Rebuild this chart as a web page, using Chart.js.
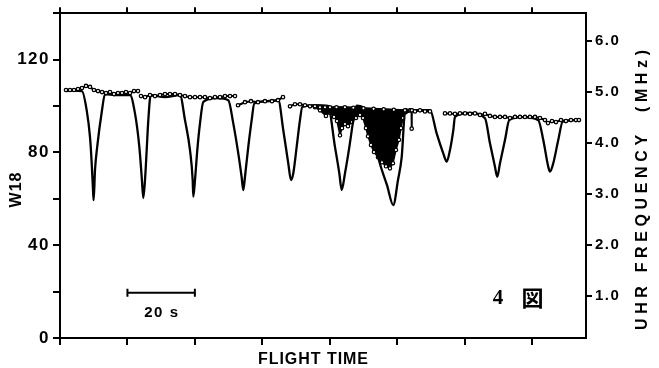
<!DOCTYPE html>
<html>
<head>
<meta charset="utf-8">
<script src="https://cdn.jsdelivr.net/npm/chart.js@4.4.0/dist/chart.umd.min.js"></script>
<style>
html,body{margin:0;padding:0;background:#fff;}
#wrap{width:659px;height:368px;position:relative;}
canvas{display:block;}
</style>
</head>
<body>
<div id="wrap"><canvas id="c" width="659" height="368"></canvas></div>
<script>
// ---- data ----
// W18 trace (seconds, W18 units)
const w18Time = [
  1.78, 4.2,
  6.52, 7.91, 8.90, 9.40, 9.79, 9.98, 10.38, 11.06, 12.37, 13.35,
  16.3,
  20.76, 22.24, 23.52, 24.23, 24.71, 25.21, 25.71, 26.19, 26.90,
  31.1,
  35.59, 37.07, 38.55, 39.35, 39.53, 40.04, 40.72, 41.52, 42.50,
  46.5,
  49.91, 51.39, 52.87, 53.86, 54.36, 54.86, 55.84, 56.84, 57.62,
  61.5,
  64.74, 66.22, 67.70, 68.51, 69.19, 70.19, 71.17, 71.86,
  75.6,
  79.5, 81.55, 82.84, 83.54, 84.52, 85.82, 87.0, 87.96,
  89.86, 91.93, 93.71, 95.20, 96.98, 98.84, 100.24, 101.34, 102.31,
  106.2,
  109.73, 111.71, 113.67, 114.68, 115.66, 116.65, 117.14,
  121.5,
  126.04, 127.52, 129.0, 129.69, 130.49, 131.97, 133.24,
  137.0,
  141.85, 143.33, 144.81, 145.31, 146.29, 147.77, 149.08,
  153.3
];
const w18Values = [
  106.4, 106.6,
  106.4, 98.2, 86.6, 75.4, 63.8, 59.4, 72.4, 82.7, 97.3, 105.1,
  104.7,
  104.7, 96.8, 82.5, 69.5, 60.3, 68.1, 81.0, 93.9, 104.7,
  103.8,
  104.7, 93.9, 81.0, 68.1, 60.9, 68.1, 81.0, 92.5, 101.8,
  103.4,
  102.5, 92.5, 79.6, 69.5, 63.8, 69.5, 82.4, 93.9, 101.1,
  102.1,
  102.5, 89.6, 75.3, 68.1, 71.0, 82.4, 93.9, 99.6,
  100.4,
  100.0, 82.4, 71.0, 63.8, 71.0, 82.4, 93.9, 100.1,
  99.5, 90.0, 81.4, 73.6, 65.9, 57.3, 68.1, 78.0, 96.6,
  98.2,
  98.2, 88.2, 79.6, 76.0, 81.0, 89.6, 95.3,
  97.0,
  94.7, 83.9, 73.8, 69.5, 75.3, 85.3, 93.9,
  95.2,
  93.9, 85.3, 73.8, 71.7, 75.3, 85.3, 93.2,
  93.9
];

// UHR frequency samples (seconds, MHz); null = break in the record
const uhrTime = [
  1.78, 2.97, 4.15, 5.34, 6.52, 7.71, 8.90, 10.08, 11.27, 12.46, 13.64, 14.83, 16.01, 17.20, 18.39, 19.57, 20.76, 21.95, 23.13,
  23.6,
  24.02, 25.21, 26.69, 28.17, 29.66, 31.14, 32.62, 34.10, 35.59, 37.07, 38.55, 40.04, 41.52, 43.0, 44.48, 45.97, 47.45, 48.93, 50.42, 51.9,
  52.3,
  52.79, 54.86, 56.64, 58.72, 60.79, 62.87, 64.65, 66.13,
  67.2,
  68.21, 69.69, 71.17, 72.66, 74.14, 75.62, 77.11, 78.59, 80.07, 82.0, 84.5, 87.0, 90.0, 93.0, 96.0, 99.0, 102.31, 103.8, 104.25, 104.3, 104.35, 105.28, 106.76, 108.24, 109.73,
  111.0,
  114.18, 115.66, 117.14, 118.62, 120.11, 121.59, 123.07, 124.56, 126.04, 127.52, 129.0, 130.49, 131.97, 133.45, 134.94, 136.42, 137.9, 139.38, 140.87, 142.35, 143.83, 144.72, 145.91, 147.09, 148.58, 150.06, 151.54, 153.02, 153.91
];
const uhrValues = [
  5.04, 5.04, 5.04, 5.06, 5.08, 5.12, 5.10, 5.04, 5.02, 5.00, 4.98, 5.00, 4.96, 4.98, 4.98, 5.00, 4.98, 5.02, 5.02,
  null,
  4.92, 4.90, 4.94, 4.92, 4.94, 4.96, 4.96, 4.96, 4.94, 4.92, 4.90, 4.90, 4.90, 4.90, 4.88, 4.90, 4.90, 4.92, 4.92, 4.92,
  null,
  4.74, 4.80, 4.82, 4.80, 4.82, 4.82, 4.84, 4.90,
  null,
  4.72, 4.76, 4.76, 4.74, 4.72, 4.72, 4.70, 4.70, 4.70, 4.70, 4.70, 4.69, 4.68, 4.67, 4.66, 4.65, 4.64, 4.64, 4.64, 4.28, 4.64, 4.62, 4.64, 4.62, 4.62,
  null,
  4.58, 4.58, 4.57, 4.58, 4.58, 4.57, 4.58, 4.55, 4.57, 4.53, 4.51, 4.51, 4.51, 4.49, 4.51, 4.51, 4.51, 4.51, 4.51, 4.49, 4.45, 4.39, 4.43, 4.41, 4.45, 4.43, 4.45, 4.45, 4.45
];

// dense UHR scatter (solid black band): upper and lower envelope
const burstTopTime = [75.62, 80.07, 85.0, 90.0, 96.0, 102.61];
const burstTopValues = [4.72, 4.70, 4.70, 4.68, 4.66, 4.64];
const burstBottomTime = [75.62, 77.11, 78.88, 80.07, 81.26, 82.15, 83.04, 83.63, 84.52, 85.41, 86.6, 87.78, 88.97, 89.86, 90.75, 91.34, 92.23, 93.12, 94.31, 95.49, 96.68, 97.86, 98.75, 99.64, 100.53, 101.13, 101.72, 102.61];
const burstBottomValues = [4.70, 4.64, 4.53, 4.60, 4.51, 4.43, 4.15, 4.29, 4.37, 4.33, 4.41, 4.49, 4.55, 4.49, 4.29, 4.13, 3.96, 3.82, 3.72, 3.62, 3.54, 3.50, 3.60, 3.86, 4.06, 4.29, 4.49, 4.64];

// axes
const timeTickValues = [0, 20, 40, 60, 80, 100, 120, 140];
const w18TickValues = [0, 20, 40, 60, 80, 100, 120, 140];
const w18TickLabels = ['0', '', '40', '', '80', '', '120', ''];
const uhrTickValues = [1, 2, 3, 4, 5, 6];
const uhrTickLabels = ['1.0', '2.0', '3.0', '4.0', '5.0', '6.0'];

// annotations
const scaleBarSeconds = [20, 40];
const scaleBarLevel = 19.5;
const scaleBarText = '20 s';
const figureNumber = '4';
const figureMark = '図';
const leftTitle = 'W18';
const rightTitle = 'UHR FREQUENCY  (MHz)';
const bottomTitle = 'FLIGHT TIME';

// ---- build library tables ----
const w18Points = w18Time.map((t, i) => ({x: t, y: w18Values[i]}));
const uhrPoints = uhrTime.map((t, i) => ({x: t, y: uhrValues[i]}));
const burstTopPts = burstTopTime.map((t, i) => ({x: t, y: burstTopValues[i]}));
const burstBotPts = burstBottomTime.map((t, i) => ({x: t, y: burstBottomValues[i]})).reverse();
const burstPoints = burstTopPts.concat(burstBotPts);
const burstTopCount = burstTopPts.length;

const FONT = "'Liberation Sans', Arial, Helvetica, sans-serif";

function drawSpaced(ctx, text, cx, cy, totalWidth) {
  const chars = Array.from(text);
  const widths = chars.map(ch => ctx.measureText(ch).width);
  const w = widths.reduce((a, b) => a + b, 0);
  const extra = chars.length > 1 ? (totalWidth - w) / (chars.length - 1) : 0;
  let x = cx - totalWidth / 2;
  ctx.textAlign = 'left';
  ctx.textBaseline = 'middle';
  chars.forEach((ch, i) => { ctx.fillText(ch, x, cy); x += widths[i] + extra; });
}

const spacingPlugin = {
  id: 'spacing',
  beforeDraw(chart) {
    const ctx = chart.ctx;
    if ('letterSpacing' in ctx) ctx.letterSpacing = '1.5px';
  }
};

const annotationPlugin = {
  id: 'annot',
  afterDraw(chart) {
    const ctx = chart.ctx;
    const sx = chart.scales.x, sy = chart.scales.y;
    ctx.save();
    if ('letterSpacing' in ctx) ctx.letterSpacing = '0px';
    ctx.fillStyle = '#000';
    ctx.strokeStyle = '#000';

    // left title
    ctx.save();
    ctx.translate(17, 190);
    ctx.rotate(-Math.PI / 2);
    ctx.font = 'bold 16px ' + FONT;
    drawSpaced(ctx, leftTitle, 0, 0, 35);
    ctx.restore();

    // right title (reads bottom to top)
    ctx.save();
    ctx.translate(643, 190);
    ctx.rotate(-Math.PI / 2);
    ctx.font = 'bold 16px ' + FONT;
    drawSpaced(ctx, rightTitle, 0, 0, 280);
    ctx.restore();

    // bottom title
    ctx.font = 'bold 16px ' + FONT;
    drawSpaced(ctx, bottomTitle, 313, 360, 110);

    // scale bar
    const x1 = sx.getPixelForValue(scaleBarSeconds[0]);
    const x2 = sx.getPixelForValue(scaleBarSeconds[1]);
    const yb = sy.getPixelForValue(scaleBarLevel);
    ctx.lineWidth = 2;
    ctx.beginPath();
    ctx.moveTo(x1, yb); ctx.lineTo(x2, yb);
    ctx.moveTo(x1, yb - 4); ctx.lineTo(x1, yb + 4);
    ctx.moveTo(x2, yb - 4); ctx.lineTo(x2, yb + 4);
    ctx.stroke();
    ctx.font = 'bold 15px ' + FONT;
    drawSpaced(ctx, scaleBarText, (x1 + x2) / 2, yb + 20, 34);

    // figure label
    const fx = sx.getPixelForValue(129.9);
    const fy = sy.getPixelForValue(17.2);
    ctx.font = "bold 21px 'Liberation Serif', 'Times New Roman', serif";
    ctx.textAlign = 'center';
    ctx.textBaseline = 'middle';
    ctx.fillText(figureNumber, fx, fy);
    const gx = sx.getPixelForValue(140.1);
    ctx.font = "bold 22px 'Noto Sans CJK JP', sans-serif";
    ctx.fillText(figureMark, gx, fy);
    ctx.restore();
  }
};

const axisGrid = (len) => ({drawOnChartArea: false, drawTicks: true, color: '#000', lineWidth: 2, tickLength: len});
const axisBorder = {display: true, color: '#000', width: 2};

new Chart(document.getElementById('c'), {
  type: 'line',
  data: {
    datasets: [
      {
        label: 'UHR burst',
        data: burstPoints,
        xAxisID: 'x', yAxisID: 'y2',
        borderColor: '#000', borderWidth: 1.5,
        backgroundColor: '#000',
        fill: 'shape',
        tension: 0,
        pointRadius: ctx => ctx.dataIndex >= burstTopCount ? 1.7 : 0,
        pointBackgroundColor: '#fff', pointBorderColor: '#000', pointBorderWidth: 1.2,
        order: 3
      },
      {
        label: 'W18',
        data: w18Points,
        xAxisID: 'x', yAxisID: 'y',
        borderColor: '#000', borderWidth: 2.3,
        pointRadius: 0,
        fill: false,
        cubicInterpolationMode: 'monotone',
        order: 2
      },
      {
        label: 'UHR FREQUENCY',
        data: uhrPoints,
        xAxisID: 'x', yAxisID: 'y2',
        borderColor: '#000', borderWidth: 2,
        pointRadius: 1.7, pointBackgroundColor: '#fff', pointBorderColor: '#000', pointBorderWidth: 1.3,
        fill: false, spanGaps: false, tension: 0,
        order: 1
      }
    ]
  },
  options: {
    responsive: false,
    animation: false,
    devicePixelRatio: 1,
    layout: {padding: 0},
    plugins: {legend: {display: false}, tooltip: {enabled: false}, title: {display: false}},
    scales: {
      x: {
        type: 'linear', position: 'bottom', min: 0, max: 156,
        afterBuildTicks: s => { s.ticks = timeTickValues.map(v => ({value: v})); },
        ticks: {autoSkip: false, callback: () => '', font: {size: 1}},
        grid: axisGrid(7), border: axisBorder,
        afterFit: s => { s.height = 30; }
      },
      xTop: {
        type: 'linear', position: 'top', min: 0, max: 156,
        afterBuildTicks: s => { s.ticks = timeTickValues.map(v => ({value: v})); },
        ticks: {autoSkip: false, callback: () => '', font: {size: 1}},
        grid: axisGrid(6), border: axisBorder,
        afterFit: s => { s.height = 13; }
      },
      y: {
        type: 'linear', position: 'left', min: 0, max: 140,
        afterBuildTicks: s => { s.ticks = w18TickValues.map(v => ({value: v})); },
        ticks: {
          autoSkip: false, color: '#000', padding: 3,
          font: {family: FONT, size: 17, weight: 'bold'},
          callback: v => w18TickLabels[w18TickValues.indexOf(v)]
        },
        grid: axisGrid(7), border: axisBorder,
        afterFit: s => { s.width = 60; }
      },
      y2: {
        type: 'linear', position: 'right', min: 0.165, max: 6.55,
        afterBuildTicks: s => { s.ticks = uhrTickValues.map(v => ({value: v})); },
        ticks: {
          autoSkip: false, color: '#000', padding: 3,
          font: {family: FONT, size: 15, weight: 'bold'},
          callback: v => uhrTickLabels[uhrTickValues.indexOf(v)]
        },
        grid: axisGrid(6), border: axisBorder,
        afterFit: s => { s.width = 73; }
      }
    }
  },
  plugins: [spacingPlugin, annotationPlugin]
});
</script>
</body>
</html>
